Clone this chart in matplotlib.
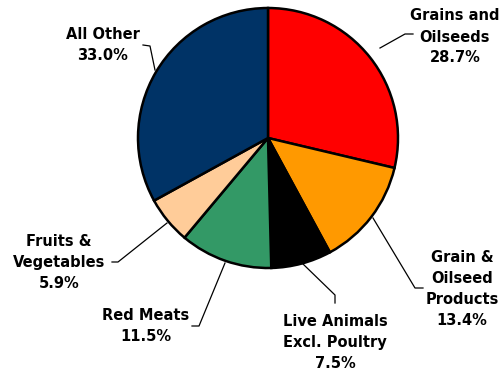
import matplotlib
matplotlib.use("Agg")
import matplotlib.pyplot as plt

labels = ["Grains and\nOilseeds", "Grain &\nOilseed\nProducts", "Live Animals\nExcl. Poultry",
          "Red Meats", "Fruits &\nVegetables", "All Other"]
shares = [28.7, 13.4, 7.5, 11.5, 5.9, 33.0]
colors = ["#FF0000", "#FF9900", "#000000", "#339966", "#FFCC99", "#003366"]

# label centres and leader polylines in pixel coords (y from top)
label_pos = [(455, 37), (462, 289), (335, 343), (146, 326), (59, 262), (103, 45)]
leaders = [
    [(380, 48), (405, 34), (413, 34)],
    [(373, 218), (415, 288), (423, 288)],
    [(303, 264), (335, 295), (335, 303)],
    [(225, 263), (199, 326), (192, 326)],
    [(167, 223), (118, 262), (112, 262)],
    [(155, 70), (150, 46), (143, 45)],
]

W, H = 504, 377
fig = plt.figure(figsize=(W / 100, H / 100), dpi=100)
ax = fig.add_axes([0, 0, 1, 1])

ax.pie(shares, colors=colors, startangle=90, counterclock=False,
       center=(268, H - 138), radius=130, frame=True,
       wedgeprops=dict(edgecolor="black", linewidth=1.8))
ax.set_xlim(0, W)
ax.set_ylim(0, H)
ax.set_aspect("equal")
ax.axis("off")

for lab, val, (x, y), pts in zip(labels, shares, label_pos, leaders):
    ax.text(x, H - y, f"{lab}\n{val:.1f}%", ha="center", va="center",
            fontsize=10.5, fontweight="bold", family="DejaVu Sans", linespacing=1.5)
    ax.plot([p[0] for p in pts], [H - p[1] for p in pts], color="black", lw=0.9)

fig.savefig("out.png", dpi=100)
